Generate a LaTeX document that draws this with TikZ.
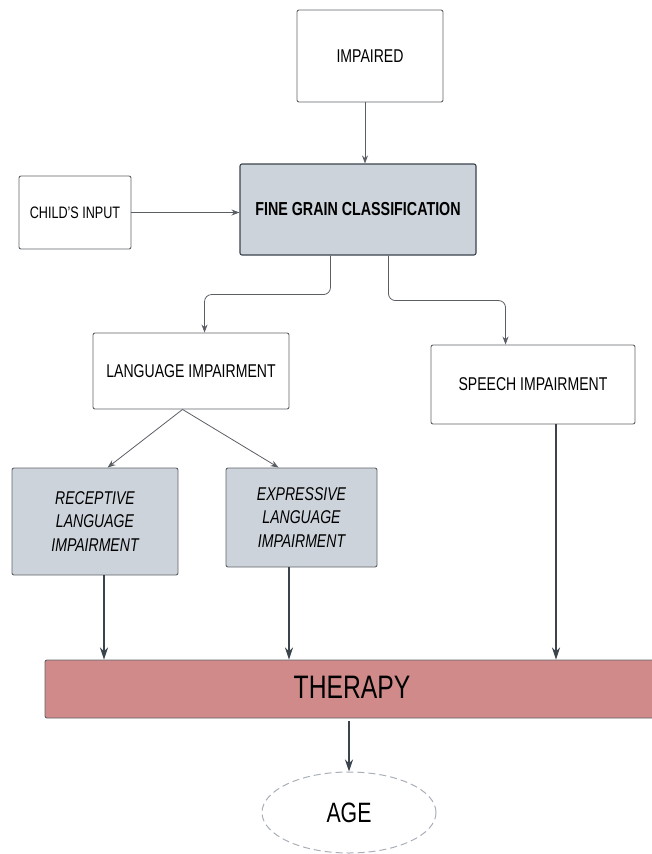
\documentclass[tikz,border=0pt]{standalone}
\usepackage{fontspec}
\setmainfont{Liberation Sans}[FakeStretch=0.76]
\usetikzlibrary{arrows.meta,shapes.geometric}
\definecolor{boxline}{HTML}{5F6368}
\definecolor{greyfill}{HTML}{CDD3DB}
\definecolor{therapyfill}{HTML}{D08A8A}
\definecolor{darkline}{HTML}{3B434D}
\definecolor{thinline}{HTML}{5A5F66}
\definecolor{dashline}{HTML}{A9AFB8}
\tikzset{
  x=1pt, y=-1pt,
  plainbox/.style={draw=boxline, line width=0.9pt, fill=white, rounded corners=2pt,
    inner sep=0pt, align=center, font=\fontsize{18.5}{23}\selectfont},
  greybox/.style={plainbox, fill=greyfill},
  thinarrow/.style={draw=thinline, line width=0.8pt, -{Stealth[length=8pt,width=6pt]}},
  thickarrow/.style={draw=darkline, line width=2pt, -{Stealth[length=12pt,width=8pt]}},
}
\begin{document}
\begin{tikzpicture}
\useasboundingbox (0,0) rectangle (651,854);
% boxes
\node[plainbox, minimum width=146pt, minimum height=92pt] (imp) at (370,56) {IMPAIRED};
\node[greybox, draw=darkline, line width=1.1pt, minimum width=236pt, minimum height=91pt,
  font=\fontsize{18.8}{23}\selectfont\bfseries] (fgc) at (358,209.5) {FINE GRAIN CLASSIFICATION};
\node[plainbox, minimum width=112pt, minimum height=73pt, font=\fontsize{16.6}{20}\selectfont] (child) at (75,212.5) {CHILD'S INPUT};
\node[plainbox, minimum width=196pt, minimum height=76pt] (lang) at (191,371) {LANGUAGE IMPAIRMENT};
\node[plainbox, minimum width=204pt, minimum height=79pt] (speech) at (533,384.5) {SPEECH IMPAIRMENT};
\node[greybox, minimum width=166pt, minimum height=107pt, font=\fontsize{18.5}{23.5}\selectfont\itshape] (rec) at (95,521.5) {RECEPTIVE\\LANGUAGE\\IMPAIRMENT};
\node[greybox, minimum width=151pt, minimum height=99pt, font=\fontsize{18.5}{23.5}\selectfont\itshape] (exp) at (301.5,517.5) {EXPRESSIVE\\LANGUAGE\\IMPAIRMENT};
\node[draw=boxline, line width=0.9pt, fill=therapyfill, rounded corners=2pt, inner sep=0pt,
  minimum width=614pt, minimum height=58pt] (ther) at (352,689) {};
\node[font=\fontsize{32.5}{38}\selectfont] (thertext) at (352,687) {THERAPY};
\node[ellipse, draw=dashline, dashed, dash pattern=on 7pt off 4pt, line width=1pt,
  minimum width=174pt, minimum height=81pt, inner sep=0pt, font=\fontsize{28}{32}\selectfont] (age) at (349,812.5) {AGE};
% thin connectors
\draw[thinarrow] ([xshift=-5pt]imp.south) -- ([xshift=-5pt]imp.south |- fgc.north);
\draw[thinarrow] (child.east) -- (child.east -| fgc.west);
\draw[thinarrow, rounded corners=7pt] ([xshift=91pt]fgc.south west) -- ++(0,39) -| ([xshift=112pt]lang.north west);
\draw[thinarrow, rounded corners=7pt] ([xshift=149pt]fgc.south west) -- ++(0,45) -| ([xshift=75pt]speech.north west);
\draw[thinarrow] ([xshift=90pt]lang.south west) -- ([xshift=96pt]rec.north west);
\draw[thinarrow] ([xshift=90pt]lang.south west) -- ([xshift=53pt]exp.north west);
% thick connectors
\draw[thickarrow] ([xshift=9pt]rec.south) -- ([xshift=9pt]rec.south |- ther.north);
\draw[thickarrow] ([xshift=-12.5pt]exp.south) -- ([xshift=-12.5pt]exp.south |- ther.north);
\draw[thickarrow] ([xshift=23pt]speech.south) -- ([xshift=23pt]speech.south |- ther.north);
\draw[thickarrow] ([yshift=-3pt]ther.south -| age.north) -- (age.north);
\end{tikzpicture}
\end{document}
